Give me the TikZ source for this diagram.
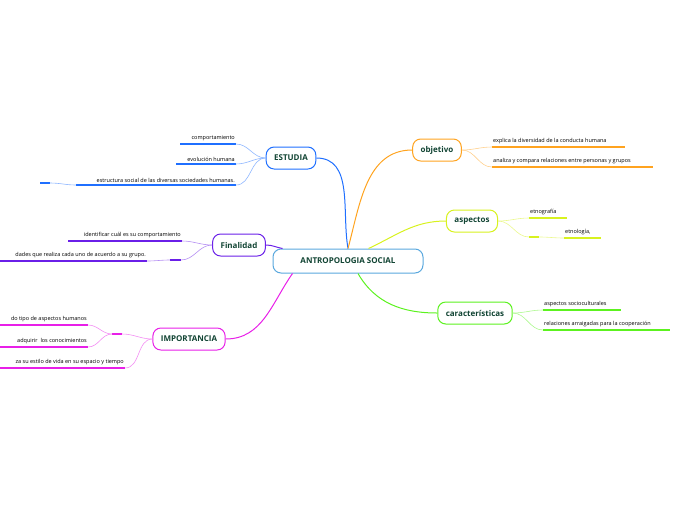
\documentclass[tikz,border=0pt]{standalone}
\usepackage{fontspec}
\setmainfont{Open Sans}
\definecolor{cmain}{HTML}{5AA8DE}
\definecolor{cest}{HTML}{1F6FFF}
\definecolor{cfin}{HTML}{6A1FE8}
\definecolor{cimp}{HTML}{E81FE8}
\definecolor{cobj}{HTML}{FFA31F}
\definecolor{casp}{HTML}{D8F21F}
\definecolor{ccar}{HTML}{5CF21F}
\definecolor{ctxt}{HTML}{114433}
\tikzset{
  topic/.style={draw=#1,rounded corners=8pt,line width=1pt,fill=white,minimum height=22pt,
    inner xsep=8pt,font=\fontsize{8}{9}\selectfont\bfseries,text=ctxt},
  leaf/.style={font=\fontsize{5.5}{6}\selectfont,inner sep=1pt},
  uline/.style={draw=#1,line width=1.3pt},
  link/.style={draw=#1,line width=1pt},
  sublink/.style={draw=#1!50,line width=.6pt}
}
% underline with text: name, colour, x1, x2, y, text, anchor of text
\newcommand{\leafline}[7]{%
  \coordinate (#1-west) at (#3,#5);
  \coordinate (#1-east) at (#4,#5);
  \draw[uline=#2] (#1-west) -- (#1-east);
  \node[leaf,anchor=south #7] (#1) at ([yshift=1.5pt]#1-#7) {#6};
}
\begin{document}
\begin{tikzpicture}[x=1pt,y=-1pt]
\useasboundingbox (0,0) rectangle (696,520);
\clip (0,0) rectangle (696,520);
% central topic and branches
\node[topic=cmain,minimum width=150pt,minimum height=24pt] (root) at (348,261) {ANTROPOLOGIA SOCIAL};
\node[topic=cest] (est) at (291,158) {ESTUDIA};
\node[topic=cfin] (fin) at (239,245) {Finalidad};
\node[topic=cimp] (imp) at (189,339) {IMPORTANCIA};
\node[topic=cobj] (obj) at (437,150) {objetivo};
\node[topic=casp] (asp) at (472,221) {aspectos};
\node[topic=ccar] (car) at (475,313) {características};
\draw[link=cest] (root.north) to[out=100,in=0] (est.east);
\draw[link=cfin] ([xshift=10pt]root.north west) to[out=170,in=0] (fin.east);
\draw[link=cimp] ([xshift=20pt]root.south west) to[out=235,in=0] (imp.east);
\draw[link=cobj] (root.north) to[out=75,in=180] (obj.west);
\draw[link=casp] ([xshift=-55pt]root.north east) to[out=25,in=180] (asp.west);
\draw[link=ccar] ([xshift=10pt]root.south) to[out=-60,in=180] (car.west);
% ESTUDIA
\leafline{e1}{cest}{180}{236}{144}{comportamiento}{east}
\leafline{e2}{cest}{176}{236}{164}{evolución humana}{east}
\leafline{e3}{cest}{76}{236}{185}{estructura social de las diversas sociedades humanas.}{east}
\draw[uline=cest] (40,183) -- (50,183);
\draw[sublink=cest] (50,183) to[out=0,in=180] (e3-west);
\foreach \l in {e1,e2,e3} \draw[sublink=cest] (est.west) to[out=180,in=0] (\l-east);
% Finalidad
\leafline{f1}{cfin}{68}{182}{241}{identificar cuál es su comportamiento}{east}
\leafline{f2}{cfin}{-60}{147}{261}{dades que realiza cada uno de acuerdo a su grupo.}{east}
\draw[uline=cfin] (170,260) -- (181,260);
\draw[sublink=cfin] (f2-east) to[out=0,in=180] (170,260);
\draw[sublink=cfin] (fin.west) to[out=180,in=0] (f1-east);
\draw[sublink=cfin] (fin.west) to[out=180,in=0] (181,260);
% IMPORTANCIA
\leafline{i1}{cimp}{-40}{88}{325}{do tipo de aspectos humanos}{east}
\leafline{i2}{cimp}{-40}{88}{347}{adquirir\ \ los conocimientos}{east}
\leafline{i3}{cimp}{-60}{125}{368}{za su estilo de vida en su espacio y tiempo}{east}
\draw[uline=cimp] (112,334) -- (122,334);
\foreach \l in {i1,i2} \draw[sublink=cimp] (112,334) to[out=180,in=0] (\l-east);
\draw[sublink=cimp] (imp.west) to[out=180,in=0] (122,334);
\draw[sublink=cimp] (imp.west) to[out=180,in=0] (i3-east);
% objetivo
\leafline{o1}{cobj}{492}{625}{147}{explica la diversidad de la conducta humana}{west}
\leafline{o2}{cobj}{492}{653}{167}{analiza y compara relaciones entre personas y grupos}{west}
\foreach \l in {o1,o2} \draw[sublink=cobj] (obj.east) to[out=0,in=180] (\l-west);
% aspectos
\leafline{a1}{casp}{529}{567}{218}{etnografía}{west}
\leafline{a2}{casp}{564}{601}{238}{etnología,}{west}
\draw[uline=casp] (529,237) -- (539,237);
\draw[sublink=casp] (539,237) to[out=0,in=180] (a2-west);
\draw[sublink=casp] (asp.east) to[out=0,in=180] (a1-west);
\draw[sublink=casp] (asp.east) to[out=0,in=180] (529,237);
% caracteristicas
\leafline{c1}{ccar}{543}{621}{310}{aspectos socioculturales}{west}
\leafline{c2}{ccar}{543}{670}{330}{relaciones arraigadas para la cooperación}{west}
\foreach \l in {c1,c2} \draw[sublink=ccar] (car.east) to[out=0,in=180] (\l-west);
\end{tikzpicture}
\end{document}
